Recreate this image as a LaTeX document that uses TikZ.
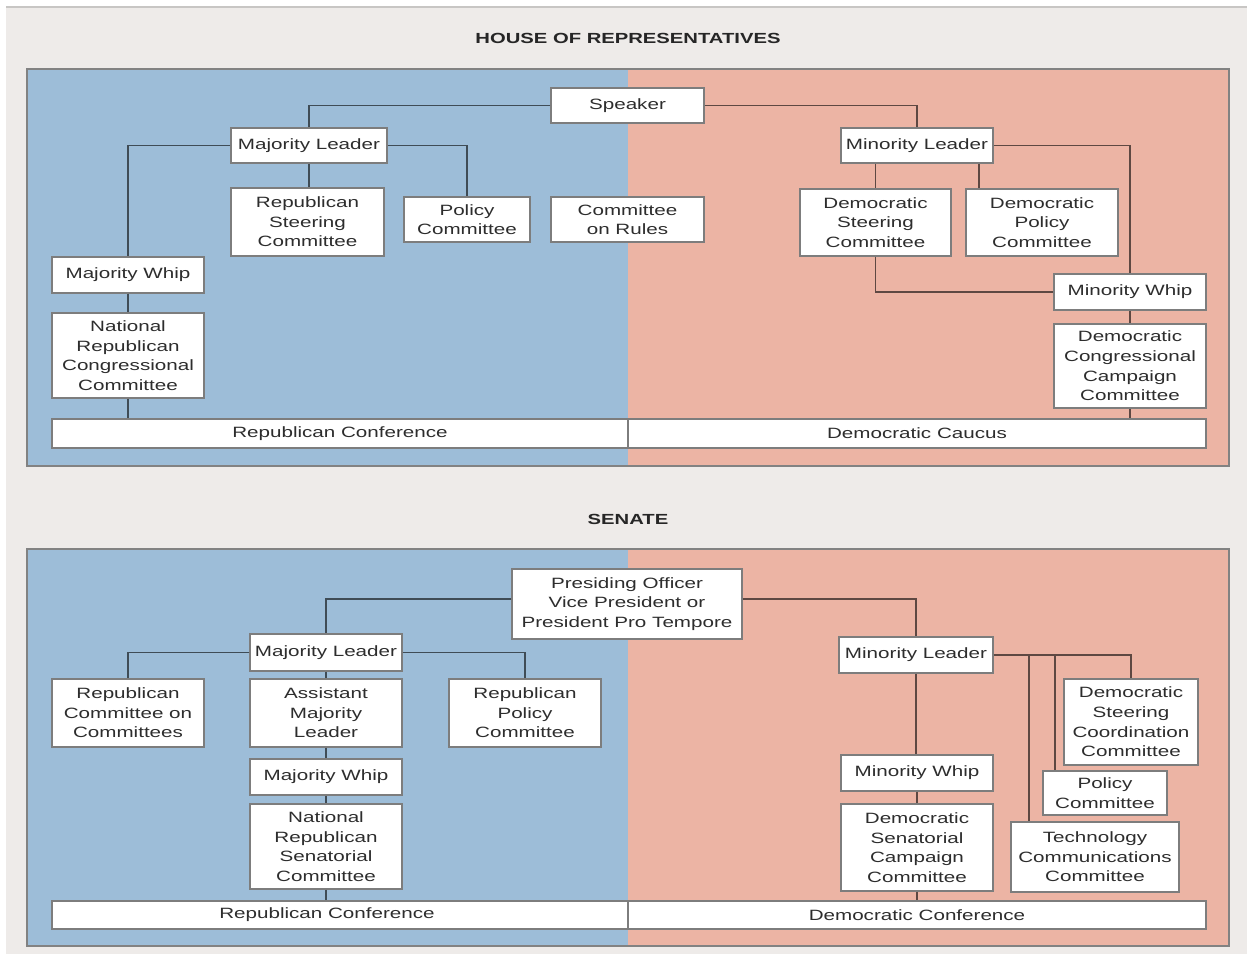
\documentclass[tikz,border=0pt]{standalone}
\usepackage{fontspec}
\setmainfont[FakeStretch=1.38]{Liberation Sans}
\usetikzlibrary{shadows}
\definecolor{bgc}{RGB}{238,235,233}
\definecolor{topline}{RGB}{200,198,196}
\definecolor{blu}{RGB}{157,189,216}
\definecolor{pnk}{RGB}{236,180,164}
\definecolor{txt}{RGB}{45,45,45}
\definecolor{lineB}{RGB}{63,76,86}
\definecolor{lineP}{RGB}{94,72,66}
\definecolor{boxline}{RGB}{125,125,125}
\definecolor{panelline}{RGB}{130,130,130}
\newcommand{\obox}[6]{\node[box, minimum width={(#4-#2)*0.75pt}, minimum height={(#5-#3)*0.75pt}] (#1) at ({(#2+#4)/2},{(#3+#5)/2}) {#6};}
\begin{document}
\begin{tikzpicture}[x=0.75pt,y=-0.75pt,
  boxtext/.style={inner sep=0pt, align=center, text=txt, font=\fontsize{11.2}{14.7}\selectfont},
  box/.style={boxtext, draw=boxline, line width=0.9pt, fill=white,
    drop shadow={shadow xshift=0.7pt,shadow yshift=-0.7pt,opacity=0.25,fill=black}},
  conB/.style={draw=lineB, line width=1.2pt},
  conP/.style={draw=lineP, line width=1.2pt},
  ttl/.style={font=\bfseries\fontsize{11}{13}\selectfont, text=black!85, inner sep=0pt},
  panelframe/.style={draw=panelline, line width=0.8pt}]
\useasboundingbox (0,0) rectangle (1247,954);
% background
\fill[white] (0,0) rectangle (1247,954);
\fill[bgc] (6,7) rectangle (1247,954);
\draw[topline, line width=2pt] (6,7) -- (1247,7);

% ===== HOUSE =====
\node[ttl] (thouse) at (628,38) {HOUSE OF REPRESENTATIVES};
\fill[blu] (27,69) rectangle (628,466);
\fill[pnk] (628,69) rectangle (1229,466);
\draw[panelframe] (27,69) rectangle (1229,466);

\coordinate (dpx) at (979,0);

\obox{spk}{551}{88}{704}{123}{Speaker}
\obox{mlh}{231}{128}{387}{163}{Majority Leader}
\obox{rsc}{231}{188}{384}{256}{Republican\\Steering\\Committee}
\obox{pch}{404}{197}{530}{242}{Policy\\Committee}
\obox{cor}{551}{197}{704}{242}{Committee\\on Rules}
\obox{mwh}{52}{257}{204}{293}{Majority Whip}
\obox{nrcc}{52}{313}{204}{398}{National\\Republican\\Congressional\\Committee}
\obox{minlh}{841}{128}{993}{163}{Minority Leader}
\obox{dsch}{800}{189}{951}{256}{Democratic\\Steering\\Committee}
\obox{dpch}{966}{189}{1118}{256}{Democratic\\Policy\\Committee}
\obox{minwh}{1054}{274}{1206}{310}{Minority Whip}
\obox{dccc}{1054}{324}{1206}{408}{Democratic\\Congressional\\Campaign\\Committee}
\obox{rch}{52}{419}{628}{448}{Republican Conference}
\obox{dch}{628}{419}{1206}{448}{Democratic Caucus}

\draw[conB] (spk.west) -| (mlh.north);
\draw[conP] (spk.east) -| (minlh.north);
\draw[conB] (mlh.west) -| (mwh.north);
\draw[conB] (mlh.south) -- (mlh.south |- rsc.north);
\draw[conB] (mlh.east) -| (pch.north);
\draw[conB] (mwh.south) -- (mwh.south |- nrcc.north);
\draw[conB] (nrcc.south) -- (nrcc.south |- rch.north);
\draw[conP] (minlh.south -| dsch.north) -- (dsch.north);
\draw[conP] (minlh.south -| dpx) -- (dpch.north -| dpx);
\draw[conP] (minlh.east) -| (minwh.north);
\draw[conP] (dsch.south) |- (minwh.west);
\draw[conP] (minwh.south) -- (minwh.south |- dccc.north);
\draw[conP] (dccc.south) -- (dccc.south |- dch.north);

% ===== SENATE =====
\node[ttl] (tsen) at (628,519) {SENATE};
\fill[blu] (27,549) rectangle (628,946);
\fill[pnk] (628,549) rectangle (1229,946);
\draw[panelframe] (27,549) rectangle (1229,946);

\obox{po}{512}{569}{742}{639}{Presiding Officer\\Vice President or\\President Pro Tempore}
\obox{smlh}{250}{634}{402}{671}{Majority Leader}
\obox{rcoc}{52}{679}{204}{747}{Republican\\Committee on\\Committees}
\obox{aml}{250}{679}{402}{747}{Assistant\\Majority\\Leader}
\obox{rpc}{449}{679}{601}{747}{Republican\\Policy\\Committee}
\obox{smw}{250}{759}{402}{795}{Majority Whip}
\obox{nrsc}{250}{804}{402}{889}{National\\Republican\\Senatorial\\Committee}
\obox{sminl}{839}{637}{993}{673}{Minority Leader}
\obox{sminw}{841}{755}{993}{791}{Minority Whip}
\obox{dscc}{841}{804}{993}{891}{Democratic\\Senatorial\\Campaign\\Committee}
\obox{dstc}{1064}{679}{1198}{765}{Democratic\\Steering\\Coordination\\Committee}
\obox{spol}{1043}{771}{1167}{815}{Policy\\Committee}
\obox{tcc}{1011}{822}{1179}{892}{Technology\\Communications\\Committee}
\obox{rcs}{52}{901}{628}{929}{}
\node[boxtext] (rcstext) at (327,915) {Republican Conference};
\obox{dcs}{628}{901}{1206}{929}{Democratic Conference}

\coordinate (tx) at (1029,0);
\coordinate (px) at (1055,0);
\draw[conB] ([yshift=3.75pt]po.west) -| (smlh.north);
\draw[conP] ([yshift=3.75pt]po.east) -| (sminl.north);
\draw[conB] (smlh.west) -| (rcoc.north);
\draw[conB] (smlh.south) -- (smlh.south |- aml.north);
\draw[conB] (smlh.east) -| (rpc.north);
\draw[conB] (aml.south) -- (aml.south |- smw.north);
\draw[conB] (smw.south) -- (smw.south |- nrsc.north);
\draw[conB] (nrsc.south) -- (nrsc.south |- rcs.north);
\draw[conP] (sminl.south) -- (sminl.south |- sminw.north);
\draw[conP] (sminw.south) -- (sminw.south |- dscc.north);
\draw[conP] (dscc.south) -- (dscc.south |- dcs.north);
\draw[conP] (sminl.east) -| (dstc.north);
\draw[conP] (sminl.east -| tx) -- (tcc.north -| tx);
\draw[conP] (sminl.east -| px) -- (spol.north -| px);
\end{tikzpicture}
\end{document}
